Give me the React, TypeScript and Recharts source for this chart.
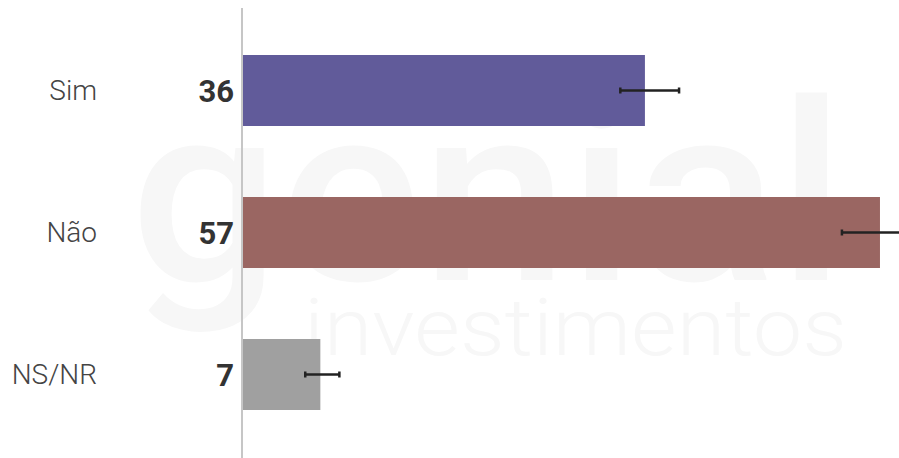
import React from 'react'
import { Bar, BarChart, Cell, ErrorBar, LabelList, XAxis, YAxis } from 'recharts'

const categories = ['Sim', 'Não', 'NS/NR']
const values = [36, 57, 7]
// lower / upper error, in points
const errors: [number, number][] = [[2.2, 3.05], [3.4, 3.0], [1.35, 1.7]]
const colors = ['#615b9a', '#9a6662', '#a0a0a0']

const data = categories.map((name, i) => ({ name, value: values[i], err: errors[i] }))

const CategoryTick = (props: any) => {
  const { y, payload } = props
  return (
    <text x={97} y={y} textAnchor='end' dominantBaseline='central'
      fontFamily='Roboto' fontWeight={300} fontSize={28} fill='#444'>
      {payload.value}
    </text>
  )
}

const Watermark = () => (
  <svg width={899} height={458} style={{ position: 'absolute', left: 0, top: 0 }}>
    <text x={130} y={280} textLength={715} lengthAdjust='spacingAndGlyphs'
      fontFamily='Roboto' fontWeight={500} fontSize={250} fill='#f7f7f7'>genial</text>
    <text x={304} y={355} textLength={543} lengthAdjust='spacingAndGlyphs'
      fontFamily='Roboto' fontWeight={300} fontSize={80} fill='#f7f7f7'>investimentos</text>
  </svg>
)

const App = () => {
  return (
    <div style={{ position: 'absolute', left: 0, top: 0, width: 899, height: 458, background: '#fff' }}>
      <Watermark />
      <div style={{ position: 'absolute', left: 0, top: 0 }}>
        <BarChart layout='vertical' width={899} height={458} data={data}
          margin={{ top: 19, right: 0, bottom: 13, left: 0 }} barSize={71}>
          <XAxis type='number' domain={[0, 58.7]} allowDataOverflow hide />
          <YAxis type='category' dataKey='name' width={242} axisLine={false} tickLine={false}
            tick={<CategoryTick />} />
          <Bar dataKey='value' isAnimationActive={false}>
            {data.map((d, i) => <Cell key={d.name} fill={colors[i]} />)}
            <LabelList dataKey='value' position='left' offset={8}
              fontFamily='Roboto' fontWeight={700} fontSize={31} fill='#333' />
            <ErrorBar dataKey='err' direction='x' width={3} stroke='#222' strokeWidth={2.5} />
          </Bar>
        </BarChart>
      </div>
      <div style={{ position: 'absolute', left: 241, top: 8, width: 2, height: 450, background: '#c6c6c6' }} />
    </div>
  )
}

export default App
